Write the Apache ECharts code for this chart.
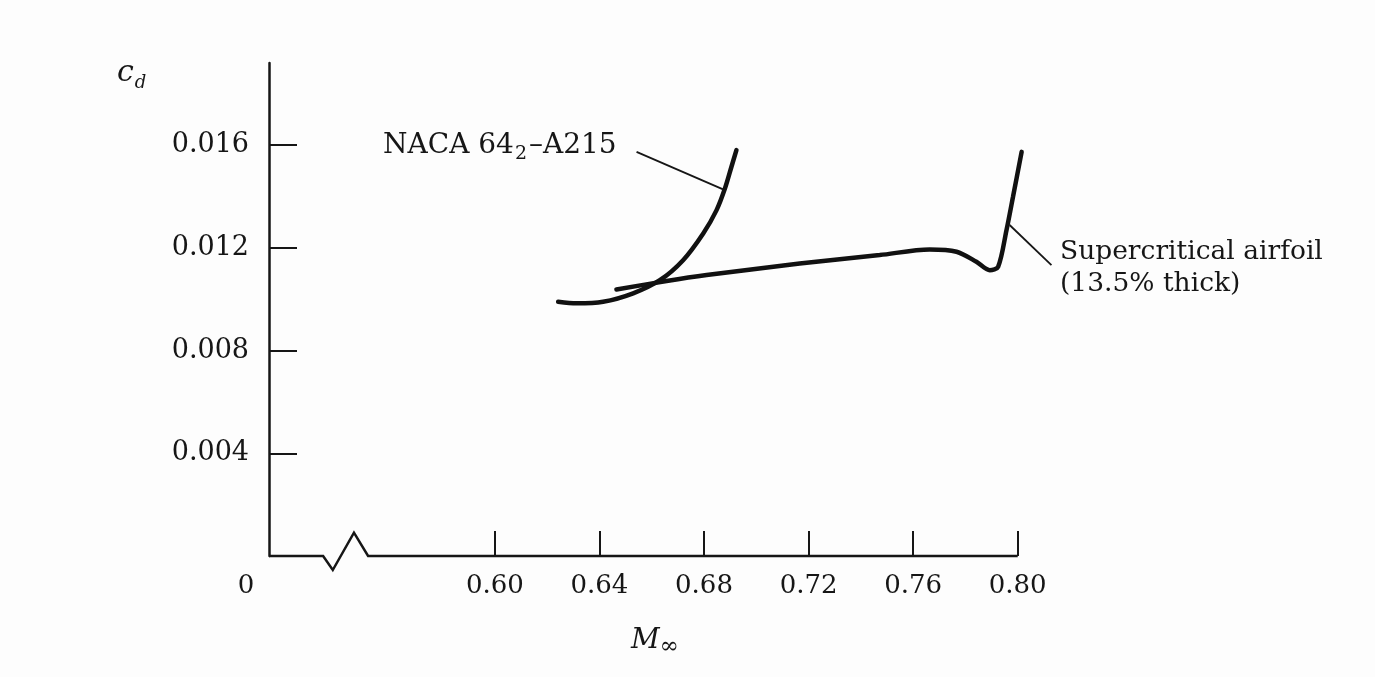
<!DOCTYPE html>
<html>
<head>
<meta charset="utf-8">
<script src="https://cdn.jsdelivr.net/npm/echarts@6/dist/echarts.min.js"></script>
<style>
html,body{margin:0;padding:0;background:#fdfdfd;}
#chart{width:1375px;height:677px;}
</style>
</head>
<body>
<div id="chart"></div>
<script>
// ---- data ----
const xMin = 0.5136, xMax = 0.82, yMin = 0, yMax = 0.0192;
const xTickValues = [0.60, 0.64, 0.68, 0.72, 0.76, 0.80];
const xLabelValues = [0.5136, 0.60, 0.64, 0.68, 0.72, 0.76, 0.80];
const yTickValues = [0.004, 0.008, 0.012, 0.016];

// NACA 64_2-A215
const nacaM  = [0.6242, 0.6312, 0.6414, 0.6529, 0.6631, 0.6720, 0.6797, 0.6848, 0.6880, 0.6905, 0.6924];
const nacaCd = [0.00990, 0.00984, 0.00990, 0.01023, 0.01074, 0.01152, 0.01256, 0.01347, 0.01431, 0.01516, 0.01581];

// Supercritical airfoil (13.5% thick)
const scM  = [0.6465, 0.6657, 0.6810, 0.7166, 0.7472, 0.7663, 0.7766, 0.7842, 0.7893, 0.7925, 0.7957, 0.7982, 0.8015];
const scCd = [0.01038, 0.01071, 0.01094, 0.01139, 0.01172, 0.01194, 0.01185, 0.01146, 0.01113, 0.01126, 0.01269, 0.01399, 0.01574];

// leader lines for the annotations
const nacaLeaderM  = [0.6542, 0.6873];
const nacaLeaderCd = [0.01574, 0.01428];
const scLeaderM  = [0.7969, 0.8129];
const scLeaderCd = [0.01289, 0.01133];

// horizontal axis line with break symbol (axis ends at 0.80)
const baseM  = [0.5136, 0.5343, 0.5380, 0.5461, 0.5515, 0.80];
const baseCd = [0, 0, -0.000545, 0.000907, 0, 0];

const zip = (a, b) => a.map((v, i) => [v, b[i]]);

const FONT = 'DejaVu Serif';
const INK = '#161616';

const chart = echarts.init(document.getElementById('chart'));
chart.setOption({
  backgroundColor: '#fdfdfd',
  animation: false,
  grid: { left: 269, right: 305, top: 63, bottom: 121 },
  xAxis: {
    type: 'value',
    min: xMin, max: xMax,
    axisLine: { show: false },
    splitLine: { show: false },
    axisTick: {
      show: true, inside: true, length: 25,
      customValues: xTickValues,
      lineStyle: { color: INK, width: 2 }
    },
    axisLabel: {
      customValues: xLabelValues,
      margin: 17,
      fontFamily: FONT, fontSize: 26, color: INK,
      formatter: function (v) {
        if (Math.abs(v - xMin) < 1e-6) return '{z|0}';
        return v.toFixed(2);
      },
      rich: { z: { fontFamily: FONT, fontSize: 26, color: INK, padding: [0, 46, 0, 0] } }
    }
  },
  yAxis: {
    type: 'value',
    min: yMin, max: yMax,
    axisLine: { show: true, lineStyle: { color: INK, width: 2.5 } },
    splitLine: { show: false },
    axisTick: {
      show: true, inside: true, length: 28,
      customValues: yTickValues,
      lineStyle: { color: INK, width: 2 }
    },
    axisLabel: {
      customValues: yTickValues,
      margin: 20,
      fontFamily: FONT, fontSize: 27, color: INK,
      formatter: v => v.toFixed(3)
    }
  },
  series: [
    {
      name: 'axis', type: 'line', data: zip(baseM, baseCd),
      showSymbol: false, clip: false, silent: true,
      lineStyle: { color: INK, width: 2.5, join: 'miter' }
    },
    {
      name: 'NACA 64₂-A215', type: 'line', data: zip(nacaM, nacaCd),
      showSymbol: false, clip: false, smooth: 0.3,
      lineStyle: { color: '#111', width: 4.5, cap: 'round' }
    },
    {
      name: 'Supercritical airfoil', type: 'line', data: zip(scM, scCd),
      showSymbol: false, clip: false, smooth: 0.3,
      lineStyle: { color: '#111', width: 4.5, cap: 'round' }
    },
    {
      name: 'leader1', type: 'line', data: zip(nacaLeaderM, nacaLeaderCd),
      showSymbol: false, clip: false,
      lineStyle: { color: INK, width: 1.8 }
    },
    {
      name: 'leader2', type: 'line', data: zip(scLeaderM, scLeaderCd),
      showSymbol: false, clip: false,
      lineStyle: { color: INK, width: 1.8 }
    }
  ],
  graphic: [
    {
      type: 'text', left: 117, top: 54,
      style: {
        text: '{c|c}{d|d}',
        rich: {
          c: { fontFamily: FONT, fontStyle: 'italic', fontSize: 30, lineHeight: 30, verticalAlign: 'top', fill: INK },
          d: { fontFamily: FONT, fontStyle: 'italic', fontSize: 18, lineHeight: 18, padding: [20, 0, 0, 1], fill: INK }
        }
      }
    },
    {
      type: 'text', left: 383, top: 128,
      style: {
        text: '{a|NACA 64}{s|2}{a|–A215}',
        rich: {
          a: { fontFamily: FONT, fontSize: 28, lineHeight: 28, verticalAlign: 'top', fill: INK },
          s: { fontFamily: FONT, fontSize: 19, lineHeight: 19, padding: [17, 2, 0, 1], fill: INK }
        }
      }
    },
    {
      type: 'text', left: 1060, top: 236,
      style: {
        text: 'Supercritical airfoil\n(13.5% thick)',
        fontFamily: FONT, fontSize: 26.5, lineHeight: 32, fill: INK
      }
    },
    {
      type: 'text', left: 631, top: 624,
      style: {
        text: '{m|M}{i|∞}',
        rich: {
          m: { fontFamily: FONT, fontStyle: 'italic', fontSize: 28, lineHeight: 30, verticalAlign: 'top', fill: INK },
          i: { fontFamily: FONT, fontSize: 23, lineHeight: 20, padding: [12, 0, 0, 0], fill: INK }
        }
      }
    }
  ]
});
</script>
</body>
</html>
